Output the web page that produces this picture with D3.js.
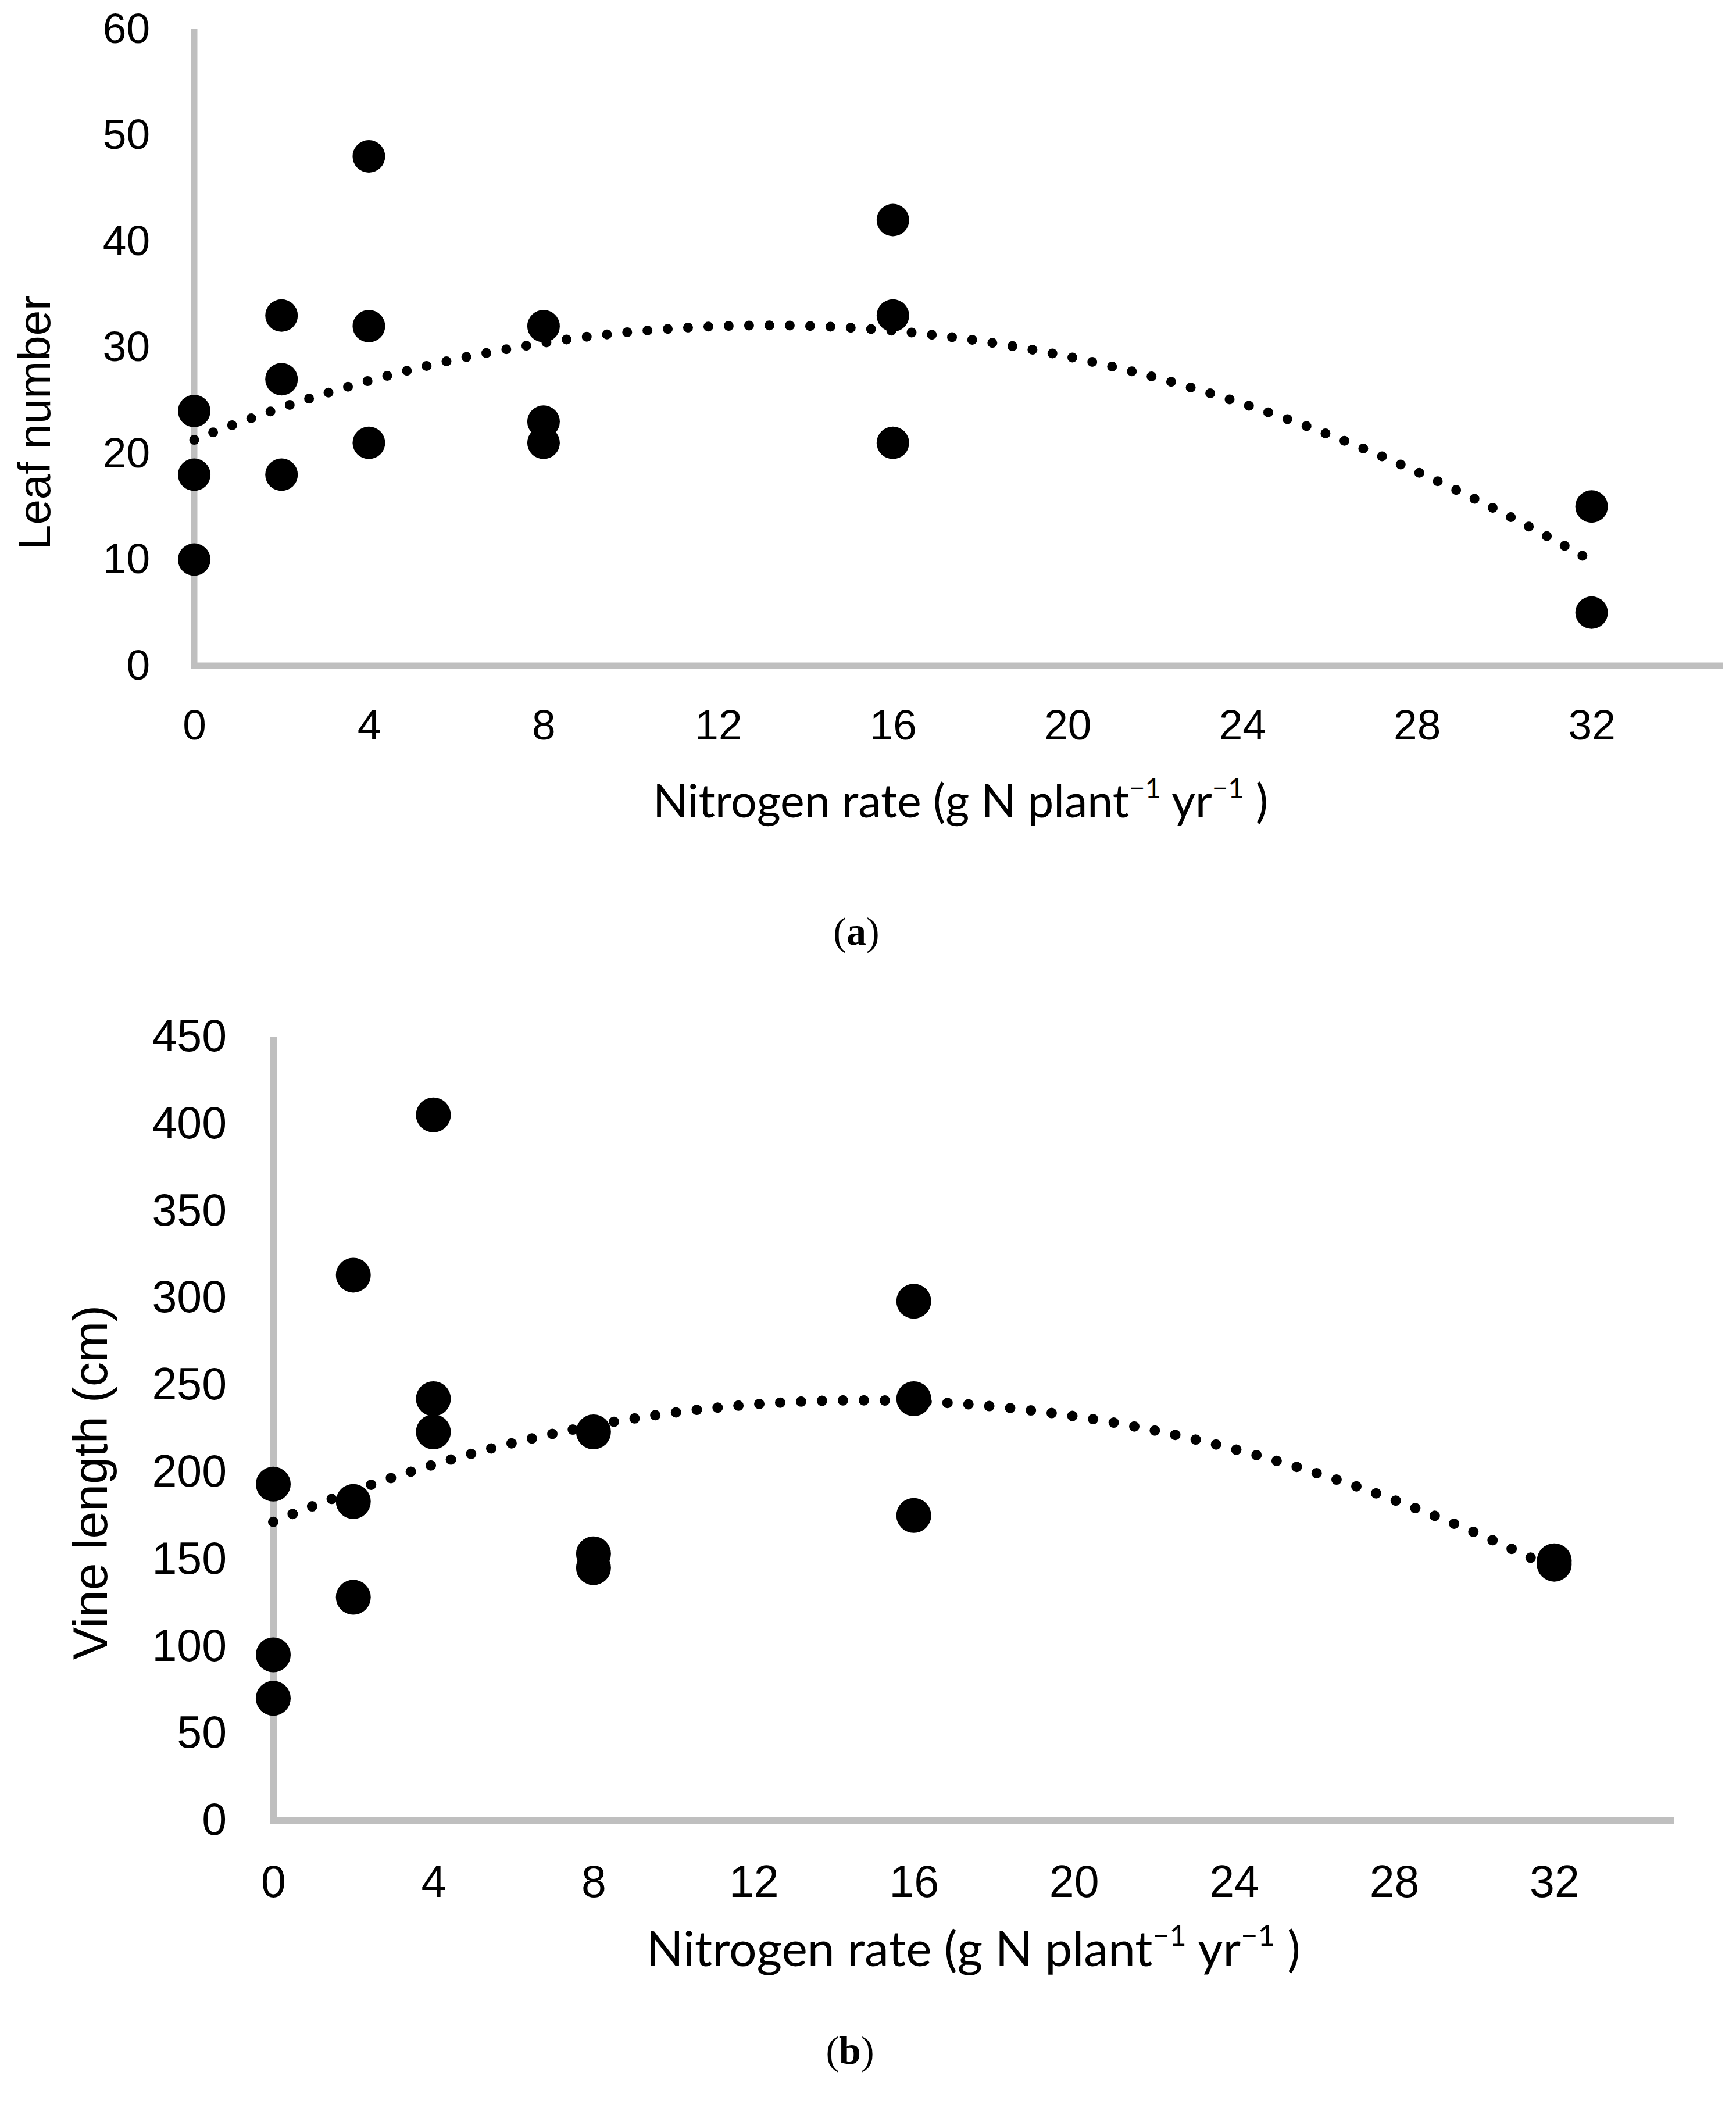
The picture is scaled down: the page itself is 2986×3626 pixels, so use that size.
<!DOCTYPE html>
<html>
<head>
<meta charset="utf-8">
<script src="https://cdn.jsdelivr.net/npm/d3@7"></script>
<style>
  body { margin: 0; background: #fff; }
  svg { display: block; }
</style>
</head>
<body>
<div id="chart"></div>
<script>
// Chart data
const nRate = [0, 0, 0, 2, 2, 2, 4, 4, 4, 8, 8, 8, 16, 16, 16, 32, 32];
const leafNumber = [24, 18, 10, 33, 27, 18, 48, 32, 21, 32, 23, 21, 42, 33, 21, 15, 5];
const vineLength = [193, 95, 70, 313, 183, 128, 405, 242, 223, 223, 153, 145, 298, 242, 175, 149, 147];

const xTicks = [0, 4, 8, 12, 16, 20, 24, 28, 32];
const leafTicks = [0, 10, 20, 30, 40, 50, 60];
const vineTicks = [0, 50, 100, 150, 200, 250, 300, 350, 400, 450];

const width = 2986;
const height = 3626;
const axisColor = "#bfbfbf";

const svg = d3.select("#chart")
  .append("svg")
  .attr("width", width)
  .attr("height", height);

svg.append("rect").attr("width", width).attr("height", height).attr("fill", "#fff");

// Least-squares quadratic (what the spreadsheet trendline does)
function quadFit(xs, ys) {
  const s = k => d3.sum(xs, x => x ** k);
  const t = k => d3.sum(xs, (x, i) => x ** k * ys[i]);
  const m = [
    [s(0), s(1), s(2), t(0)],
    [s(1), s(2), s(3), t(1)],
    [s(2), s(3), s(4), t(2)]
  ];
  // gaussian elimination
  for (let i = 0; i < 3; i++) {
    for (let j = i + 1; j < 3; j++) {
      const f = m[j][i] / m[i][i];
      for (let k = i; k < 4; k++) m[j][k] -= f * m[i][k];
    }
  }
  const c = [0, 0, 0];
  for (let i = 2; i >= 0; i--) {
    let v = m[i][3];
    for (let k = i + 1; k < 3; k++) v -= m[i][k] * c[k];
    c[i] = v / m[i][i];
  }
  return x => c[0] + c[1] * x + c[2] * x * x;
}

function drawPanel(p) {
  const x = d3.scaleLinear().domain([0, 35]).range([p.x0, p.x1]);
  const y = d3.scaleLinear().domain([0, p.yMax]).range([p.y0, p.y1]);
  const g = svg.append("g");

  // y axis labels
  const yAxis = g.append("g")
    .attr("transform", `translate(${p.x0},0)`)
    .call(d3.axisLeft(y).tickValues(p.yTicks).tickSize(0).tickPadding(p.yPad));
  // x axis labels
  const xAxis = g.append("g")
    .attr("transform", `translate(0,${p.y0})`)
    .call(d3.axisBottom(x).tickValues(xTicks).tickSize(0).tickPadding(p.xPad));

  [yAxis, xAxis].forEach(a => {
    a.select(".domain").remove();
    a.selectAll("text")
      .attr("fill", "#000")
      .style("font-family", "'Liberation Sans', Arial, sans-serif")
      .style("font-size", p.tickSize + "px");
  });

  // axis lines
  g.append("line")
    .attr("x1", p.x0).attr("x2", p.x0)
    .attr("y1", y(p.yMax)).attr("y2", p.y0 + p.axisW / 2)
    .attr("stroke", axisColor).attr("stroke-width", p.axisW);
  g.append("line")
    .attr("x1", p.x0).attr("x2", x(35))
    .attr("y1", p.y0).attr("y2", p.y0)
    .attr("stroke", axisColor).attr("stroke-width", p.axisW);

  // points
  g.selectAll("circle")
    .data(p.xs.map((d, i) => [d, p.ys[i]]))
    .enter()
    .append("circle")
    .attr("cx", d => x(d[0]))
    .attr("cy", d => y(d[1]))
    .attr("r", p.r)
    .attr("fill", "#000");

  // dotted polynomial trendline
  const fit = quadFit(p.xs, p.ys);
  const line = d3.line().x(d => x(d)).y(d => y(fit(d))).curve(d3.curveLinear);
  g.append("path")
    .attr("d", line(d3.range(0, 32.001, 0.2)))
    .attr("fill", "none")
    .attr("stroke", "#000")
    .attr("stroke-width", p.dotW)
    .attr("stroke-linecap", "round")
    .attr("stroke-dasharray", `0 ${p.dotGap}`);

  // y title
  g.append("text")
    .attr("transform", `translate(${p.yTitleX},${p.yTitleY}) rotate(-90)`)
    .attr("text-anchor", "middle")
    .style("font-family", "'Liberation Sans', Arial, sans-serif")
    .style("font-size", p.yTitleSize + "px")
    .text(p.yTitle);

  // x title with superscripts
  const fs = p.xTitleSize;
  const sup = fs * 0.6;
  const xt = g.append("text")
    .attr("x", p.xTitleX).attr("y", p.xTitleY)
    .attr("text-anchor", "middle")
    .style("font-family", "Lato, 'Open Sans', sans-serif")
    .style("font-size", fs + "px");
  xt.append("tspan").text("Nitrogen rate (g N plant");
  xt.append("tspan").attr("dy", -fs * 0.42).style("font-size", sup + "px").text("\u22121");
  xt.append("tspan").attr("dy", fs * 0.42).text(" yr");
  xt.append("tspan").attr("dy", -fs * 0.42).style("font-size", sup + "px").text("\u22121");
  xt.append("tspan").attr("dy", fs * 0.42).text(" )");

  // panel caption
  const cap = g.append("text")
    .attr("x", p.capX).attr("y", p.capY)
    .attr("text-anchor", "middle")
    .style("font-family", "'Liberation Serif', 'Times New Roman', serif")
    .style("font-size", "68px");
  cap.append("tspan").text("(");
  cap.append("tspan").style("font-weight", "bold").text(p.caption);
  cap.append("tspan").text(")");
}

drawPanel({
  xs: nRate, ys: leafNumber, yMax: 60, yTicks: leafTicks,
  x0: 334, x1: 2963, y0: 1145, y1: 50,
  yPad: 76, xPad: 75, tickSize: 73, axisW: 11, r: 28, dotW: 17, dotGap: 35,
  yTitle: "Leaf number", yTitleX: 86, yTitleY: 727, yTitleSize: 78,
  xTitleX: 1652, xTitleY: 1406, xTitleSize: 79,
  caption: "a", capX: 1473, capY: 1625
});

drawPanel({
  xs: nRate, ys: vineLength, yMax: 450, yTicks: vineTicks,
  x0: 470, x1: 2880, y0: 3131, y1: 1783,
  yPad: 80, xPad: 77, tickSize: 77, axisW: 12, r: 30, dotW: 18, dotGap: 36,
  yTitle: "Vine length (cm)", yTitleX: 184, yTitleY: 2550, yTitleSize: 84,
  xTitleX: 1674, xTitleY: 3382, xTitleSize: 84,
  caption: "b", capX: 1462, capY: 3550
});
</script>
</body>
</html>
